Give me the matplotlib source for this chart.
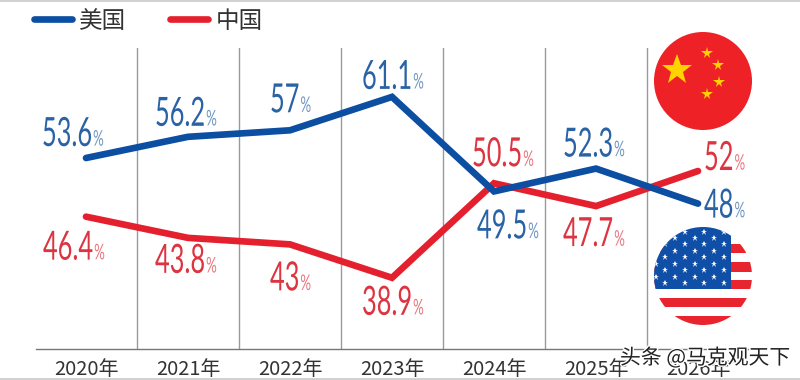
import matplotlib
matplotlib.use("Agg")
import matplotlib.pyplot as plt
import matplotlib.patheffects as pe
from matplotlib.lines import Line2D
from matplotlib.patches import Circle, Rectangle
from matplotlib.transforms import Affine2D

plt.rcParams['font.family'] = ['Noto Sans CJK SC', 'DejaVu Sans']

years = ["2020年", "2021年", "2022年", "2023年", "2024年", "2025年", "2026年"]
usa = [53.6, 56.2, 57, 61.1, 49.5, 52.3, 48]
china = [46.4, 43.8, 43, 38.9, 50.5, 47.7, 52]

# label offsets from the point, in pixels (left edge, baseline)
usa_off = [(-44, 12), (-33, 11), (-20, 18), (-30, 8), (-17, -47), (-33, 12), (6, -14)]
china_off = [(-43, -43), (-33, -35), (-20, -46), (-30, -37), (-22, 17), (-33, -40), (6, 1)]

BLUE = "#0b4ea2"
RED = "#e4202e"
W, H = 800, 380
SQUEEZE = 0.63


# the labels in the picture use a condensed face, none installed so narrow the glyphs
class Narrow(pe.AbstractPathEffect):
	def __init__(self, sx):
		super().__init__()
		self.sx = sx

	def draw_path(self, renderer, gc, tpath, affine, rgbFace=None):
		renderer.draw_path(gc, tpath, Affine2D().scale(self.sx, 1) + affine, rgbFace)


fig = plt.figure(figsize=(8, 3.8), dpi=100, facecolor="white")
ax = fig.add_axes([36 / W, 1 - 349 / H, (748 - 36) / W, (349 - 48) / H])
ax.set_xlim(-0.49, 6.49)
ax.set_ylim(30.16, 67.1)

x = list(range(len(years)))
ax.plot(x, usa, color=BLUE, lw=4.8, solid_capstyle="round", solid_joinstyle="miter", zorder=3)
ax.plot(x, china, color=RED, lw=4.8, solid_capstyle="round", solid_joinstyle="miter", zorder=2)

ax.set_xticks(x)
ax.set_xticklabels(years, fontsize=14.4, color="#333333")
ax.set_xticks([i + 0.5 for i in x[:-1]], minor=True)
ax.set_yticks([])
ax.tick_params(axis="x", which="both", length=0, pad=7)
ax.grid(axis="x", which="minor", color="#9a9a9a", lw=1)
for s in ["top", "left", "right"]:
	ax.spines[s].set_visible(False)
ax.spines["bottom"].set_color("#777777")
ax.spines["bottom"].set_linewidth(1)


def value_labels(values, offsets, col, pct_col):
	for i, (v, off) in enumerate(zip(values, offsets)):
		t = ax.annotate(f"{v:g}", (x[i], v), xytext=off, textcoords="offset pixels",
						fontsize=29, color=col, family="Lato", va="baseline", ha="left",
						zorder=4, path_effects=[Narrow(SQUEEZE)])
		ax.annotate("%", (SQUEEZE, 0.2), xycoords=t, xytext=(1, 0), textcoords="offset pixels",
					fontsize=15.5, color=pct_col, family="Lato", va="baseline", ha="left",
					zorder=4, path_effects=[Narrow(0.62)])


value_labels(usa, usa_off, "#2a62a6", "#6f95c2")
value_labels(china, china_off, "#dc3440", "#e8767e")

handles = [Line2D([], [], color=BLUE, lw=4.8, solid_capstyle="round"),
		   Line2D([], [], color=RED, lw=4.8, solid_capstyle="round")]
fig.legend(handles, ["美国", "中国"], loc="upper left", bbox_to_anchor=(29 / W, 1 - 5 / H),
		   frameon=False, ncol=2, fontsize=17, handlelength=1.62, handletextpad=0.3,
		   columnspacing=1.85, borderpad=0.2, borderaxespad=0, labelcolor="#333333")

# overlay in pixel coords for the flags and frame lines
ov = fig.add_axes([0, 0, 1, 1], facecolor="none")
ov.set_xlim(0, W)
ov.set_ylim(H, 0)
ov.axis("off")

# china flag
cn = Circle((703, 81), 49, color="#ee2127", lw=0, zorder=5)
ov.add_patch(cn)
ov.plot(677, 70, marker="*", ms=23, color="#ffd200", mew=0, zorder=6)
for sx, sy in [(707, 53), (718, 65), (719, 82), (707, 94)]:
	ov.plot(sx, sy, marker="*", ms=8.5, color="#ffd200", mew=0, zorder=6)

# us flag
clip = Circle((703, 276), 49, transform=ov.transData)
for y0, y1 in [(244, 253), (262, 272), (280, 289), (298, 307), (316, 326)]:
	r = Rectangle((650, y0), 110, y1 - y0, color="#e8252f", lw=0, zorder=5)
	ov.add_patch(r)
	r.set_clip_path(clip)
canton = Rectangle((650, 225), 81, 64, color="#0f4fa8", lw=0, zorder=6)
ov.add_patch(canton)
canton.set_clip_path(clip)
rows = [231.7, 238, 244.3, 251, 257.3, 264, 270.3, 277, 283.3]
for k, ry in enumerate(rows):
	xs = [646, 665, 685, 704, 724] if k % 2 == 0 else [656, 675, 695, 714]
	st, = ov.plot(xs, [ry] * len(xs), ls="", marker="*", ms=5, color="white", mew=0, zorder=7)
	st.set_clip_path(clip)

# thin grey frame lines, top and bottom
ov.plot([0, W], [0.5, 0.5], color="#c8c8c8", lw=1.2, zorder=1)
ov.plot([0, W], [379, 379], color="#c8c8c8", lw=1.2, zorder=1)

# watermark
ov.text(620, 358, "头条 @马克观天下", fontsize=15, color="#222222", va="center", ha="left", zorder=9,
		path_effects=[pe.withStroke(linewidth=2, foreground="white")])

fig.savefig("out.png", dpi=100)
